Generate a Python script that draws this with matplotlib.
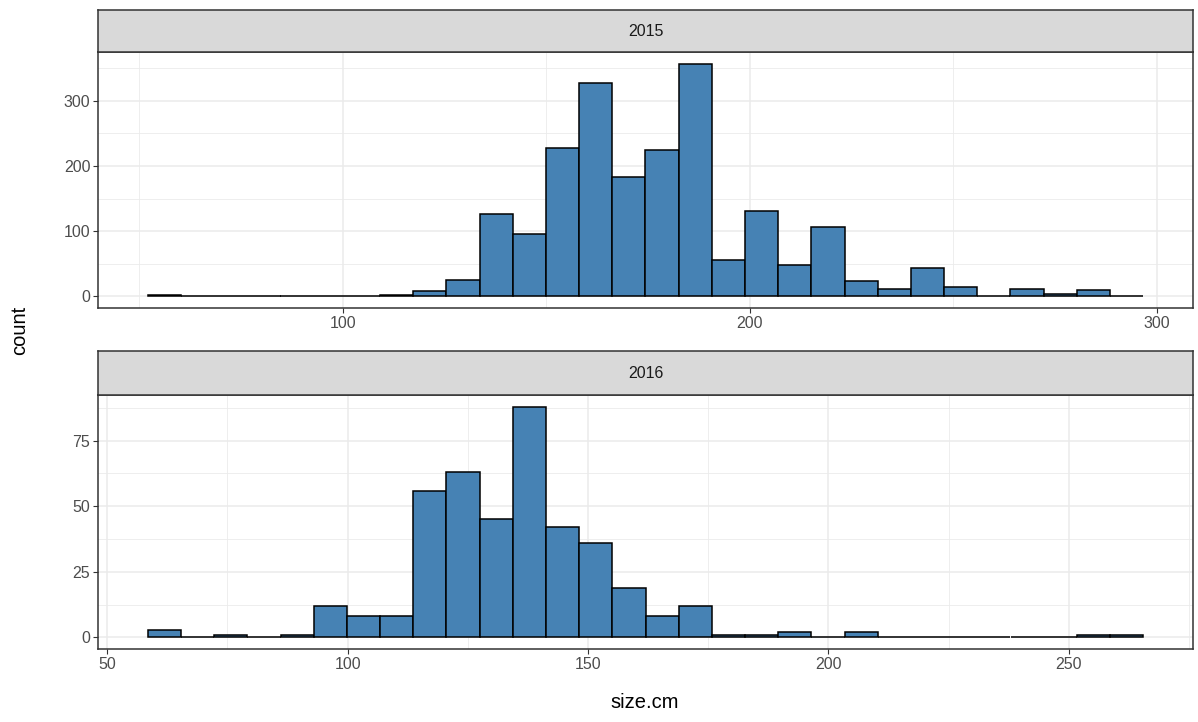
import numpy as np
import matplotlib.pyplot as plt

plt.rcParams['font.family'] = ['Liberation Sans', 'DejaVu Sans']

# histogram data (30 bins per year)
years = ["2015", "2016"]
start_2015 = 52.13
width_2015 = 8.15
counts_2015 = [2, 0, 0, 0, 0, 0, 0, 2, 8, 25,
               126, 96, 228, 327, 183, 225, 357, 56, 131, 48,
               107, 24, 12, 44, 14, 1, 12, 4, 10, 1]
start_2016 = 58.45
width_2016 = 6.9
counts_2016 = [3, 0, 1, 0, 1, 12, 8, 8, 56, 63,
               45, 88, 42, 36, 19, 8, 12, 1, 1, 2,
               0, 2, 0, 0, 0, 0, 0, 0, 1, 1]

xticks_2015 = [100, 200, 300]
yticks_2015 = [0, 100, 200, 300]
xticks_2016 = [50, 100, 150, 200, 250]
yticks_2016 = [0, 25, 50, 75]

fill = "#4682B4"
grid_col = "#EBEBEB"
border = "#333333"
tick_col = "#4D4D4D"

fig = plt.figure(figsize=(11.98, 7.22), dpi=100)
W, H = 1198, 722

def px_rect(x0, y0, x1, y1):
    return [x0 / W, 1 - y1 / H, (x1 - x0) / W, (y1 - y0) / H]

def panel(rect, strip_rect, label, start, width, counts, xticks, yticks):
    counts = np.array(counts)
    edges = start + width * np.arange(len(counts) + 1)
    ax = fig.add_axes(rect)
    ax.bar(edges[:-1], counts, width=width, align="edge", color=fill,
           edgecolor="black", linewidth=1.1, zorder=3)
    ax.set_xticks(xticks)
    ax.set_yticks(yticks)
    xs = np.diff(xticks)[0] / 2
    ys = np.diff(yticks)[0] / 2
    ax.set_xticks(np.arange(xticks[0] - xs, xticks[-1] + xs * 1.01, xs * 2), minor=True)
    ax.set_yticks(np.arange(yticks[0] + ys, yticks[-1] + ys * 1.01, ys * 2), minor=True)
    lo, hi = edges[0], edges[-1]
    pad = 0.05 * (hi - lo)
    ax.set_xlim(lo - pad, hi + pad)
    ax.set_ylim(-0.05 * counts.max(), counts.max() * 1.05)
    ax.grid(True, which="major", color=grid_col, linewidth=1.1, zorder=0)
    ax.grid(True, which="minor", color=grid_col, linewidth=0.6, zorder=0)
    ax.set_axisbelow(True)
    ax.tick_params(which="major", length=3.5, width=0.8, color=border,
                   labelsize=11.5, labelcolor=tick_col, pad=2)
    ax.tick_params(which="minor", length=0)
    for s in ax.spines.values():
        s.set_color(border)
        s.set_linewidth(1.1)
    sax = fig.add_axes(strip_rect)
    sax.set_facecolor("#D9D9D9")
    sax.set_xticks([])
    sax.set_yticks([])
    for s in sax.spines.values():
        s.set_color(border)
        s.set_linewidth(1.1)
    sax.text(0.5, 0.5, label, ha="center", va="center", fontsize=11.5,
             color="#1A1A1A", transform=sax.transAxes)
    return ax

panel(px_rect(98, 52, 1193, 308), px_rect(98, 10, 1193, 52), years[0],
      start_2015, width_2015, counts_2015, xticks_2015, yticks_2015)
panel(px_rect(98, 395, 1193, 649), px_rect(98, 351, 1193, 395), years[1],
      start_2016, width_2016, counts_2016, xticks_2016, yticks_2016)

fig.text(20 / W, 1 - 330 / H, "count", rotation=90, ha="center", va="center",
         fontsize=14.5, color="black")
fig.text(645 / W, 1 - 702 / H, "size.cm", ha="center", va="center",
         fontsize=14.5, color="black")

fig.savefig("out.png", dpi=100)
